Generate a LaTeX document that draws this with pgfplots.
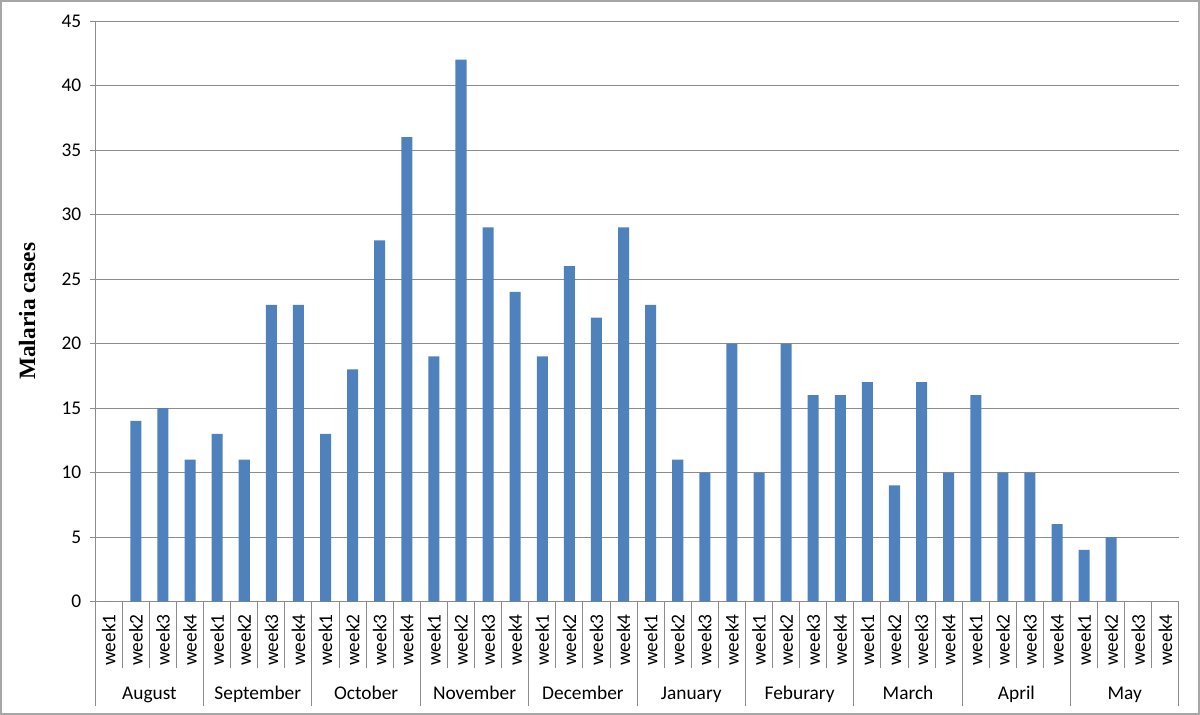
\documentclass[border=0pt]{standalone}
\usepackage{pgfplots}
\pgfplotsset{compat=1.18}
\usepackage{fontspec}
\setmainfont{Carlito}
\newfontfamily\tnr{Liberation Serif}
\definecolor{barblue}{HTML}{4F81BD}
\definecolor{axgray}{HTML}{8C8C8C}
\definecolor{framegray}{HTML}{A6A6A6}
\begin{document}
\begin{tikzpicture}
\begin{axis}[
  scale only axis,
  width=810.75pt, height=434.25pt,
  xmin=0, xmax=40, ymin=0, ymax=45,
  ytick={0,5,...,45},
  ymajorgrids, grid style={axgray, line width=0.75pt},
  axis x line*=bottom, axis y line*=left,
  axis line style={axgray, line width=0.75pt},
  x axis line style={-}, y axis line style={-},
  xtick={0.5,1.5,...,39.5},
  xticklabels={week1,week2,week3,week4,week1,week2,week3,week4,week1,week2,week3,week4,week1,week2,week3,week4,week1,week2,week3,week4,week1,week2,week3,week4,week1,week2,week3,week4,week1,week2,week3,week4,week1,week2,week3,week4,week1,week2,week3,week4},
  xticklabel style={rotate=90, anchor=east, font=\fontsize{14.5}{16}\selectfont, xshift=-2pt},
  x tick style={draw=none},
  y tick style={axgray, line width=0.75pt},
  tick align=outside, major tick length=4pt,
  yticklabel style={font=\fontsize{14.5}{16}\selectfont, xshift=-3pt},
  /pgf/number format/assume math mode=true,
  ylabel={Malaria cases},
  every axis y label/.style={at={(rel axis cs:0,0.5)}, xshift=-51pt, rotate=90, anchor=center, font=\fontsize{17.5}{20}\selectfont\tnr\bfseries},
  clip=false,
]
\addplot[ybar, bar width=8.25pt, fill=barblue, draw=none] coordinates {
(0.5,0) (1.5,14) (2.5,15) (3.5,11)
(4.5,13) (5.5,11) (6.5,23) (7.5,23)
(8.5,13) (9.5,18) (10.5,28) (11.5,36)
(12.5,19) (13.5,42) (14.5,29) (15.5,24)
(16.5,19) (17.5,26) (18.5,22) (19.5,29)
(20.5,23) (21.5,11) (22.5,10) (23.5,20)
(24.5,10) (25.5,20) (26.5,16) (27.5,16)
(28.5,17) (29.5,9) (30.5,17) (31.5,10)
(32.5,16) (33.5,10) (34.5,10) (35.5,6)
(36.5,4) (37.5,5) (38.5,0) (39.5,0)
};
\pgfplotsinvokeforeach{1,2,3,5,6,7,9,10,11,13,14,15,17,18,19,21,22,23,25,26,27,29,30,31,33,34,35,37,38,39}{
  \draw[axgray, line width=0.75pt] (axis cs:#1,0) -- ++(0,-49.5pt);
}
\pgfplotsinvokeforeach{0,4,8,12,16,20,24,28,32,36,40}{
  \draw[axgray, line width=0.75pt] (axis cs:#1,0) -- ++(0,-78pt);
}
\pgfplotsforeachungrouped \m/\lab in {2/August,6/September,10/October,14/November,18/December,22/January,26/Feburary,30/March,34/April,38/May}{
  \edef\tmp{\noexpand\node[font=\noexpand\fontsize{14.5}{16}\noexpand\selectfont, anchor=base, inner sep=0pt] at ([yshift=-73pt]axis cs:\m,0) {\lab};}
  \tmp
}
\draw[framegray, line width=1.5pt] ([xshift=-70.5pt,yshift=-84pt]rel axis cs:0,0) rectangle ([xshift=15pt,yshift=15pt]rel axis cs:1,1);
\end{axis}
\end{tikzpicture}
\end{document}
